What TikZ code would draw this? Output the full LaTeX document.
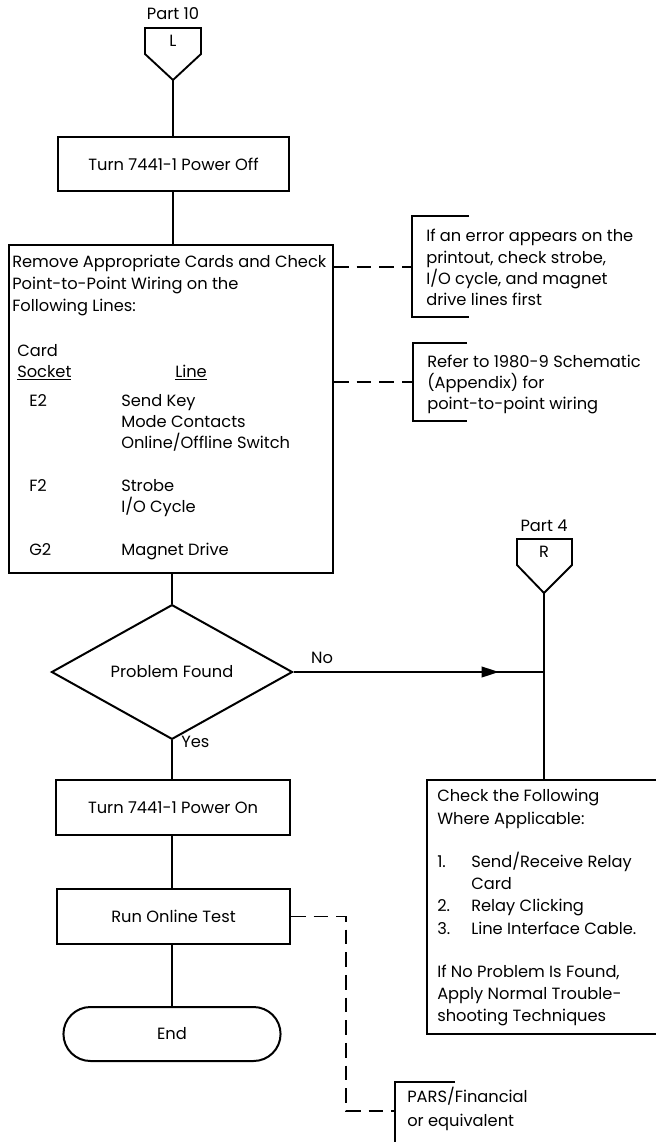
\documentclass[tikz,border=0pt]{standalone}
\usepackage{fontspec}
\setmainfont{Poppins}
\usetikzlibrary{positioning}
\usetikzlibrary{calc}
\usetikzlibrary{arrows.meta,shapes.misc}
\usetikzlibrary{shapes.geometric}
\usetikzlibrary{decorations.markings}

\begin{document}
\begin{tikzpicture}[
            x=0.75pt,
            y=-0.75pt,
            box/.style={
                draw,
                line width=1.5pt,
                inner sep=0pt,
                font=\fontsize{12.2}{16}\selectfont
            },
            dec/.style={
                diamond,
                draw,
                line width=1.5pt,
                inner sep=0pt,
                minimum width=180.75pt,
                minimum height=78.75pt,
                font=\fontsize{12.2}{16}\selectfont
            },
            term/.style={
                rounded rectangle,
                draw,
                line width=1.5pt,
                minimum width=169.5pt,
                minimum height=40.5pt,
                font=\fontsize{12.2}{16}\selectfont
            },
            ed/.style={
                draw=black,
                line width=1.4pt
            },
            dsh/.style={
                draw=black,
                line width=1.2pt,
                dash pattern=on 11pt off 6pt
            },
            lab/.style={
                font=\fontsize{12.2}{16}\selectfont,
                inner sep=0pt,
                text height=9pt,
                text depth=2.6pt
            }
        ]

            \clip (0,0) rectangle (656,1142);

            % Off-page entry
            \node[lab] (p10) at (173,15) {Part 10};
            \node[lab] (L) at (173,42) {L};
            \draw[ed] (145,28) -- (201,28) -- (201,54) -- (173,80) -- (145,54) -- cycle;
            \coordinate (Ltip) at (173,80);

            % Main column
            \node[box, minimum width=173.25pt, minimum height=40.5pt] (off) at (173.5,164) {Turn 7441-1 Power Off};
            \node[box, minimum width=243pt, minimum height=246pt] (rmv) at (171,409) {};
            \node[dec] (found) at (172,672) {Problem Found};
            \node[box, minimum width=175.5pt, minimum height=41.25pt] (on) at (173,807.5) {Turn 7441-1 Power On};
            \node[box, minimum width=174.75pt, minimum height=41.25pt] (test) at (173.5,916.5) {Run Online Test};
            \node[term] (end) at (172,1034) {End};

            % Text of the wiring box
            \foreach \y/\t [count=\k] in {263/Remove Appropriate Cards and Check,
                                          285/Point-to-Point Wiring on the,
                                          307/Following Lines:}
                \node[lab, anchor=west] (hd\k) at (12,\y) {\t};
            \node[lab, anchor=west] (card) at (17,352) {Card};
            \node[lab, anchor=west] (sock) at (17,373) {\underline{Socket}};
            \node[lab, anchor=west] (line) at (175,373) {\underline{Line}};
            \foreach \y/\t [count=\k] in {402/E2, 487/F2, 551/G2}
                \node[lab, anchor=west] (cs\k) at (29,\y) {\t};
            \foreach \y/\t [count=\k] in {402/Send Key, 423/Mode Contacts,
                                          444/{Online/Offline Switch}, 487/Strobe,
                                          508/{I/O Cycle}, 551/Magnet Drive}
                \node[lab, anchor=west] (ln\k) at (121,\y) {\t};

            % Off-page exit
            \node[lab] (p4) at (544,527) {Part 4};
            \node[lab] (R) at (544,553) {R};
            \draw[ed] (517,539) -- (572,539) -- (572,565) -- (544,593) -- (517,565) -- cycle;
            \coordinate (Rtip) at (544,593);
            \coordinate (join) at (544,672);

            % Check box on the right
            \node[box, minimum width=204.75pt, minimum height=190.5pt] (chk) at (563.5,907) {};
            \foreach \y/\t [count=\k] in {797/Check the Following, 820/Where Applicable:,
                                          973/{If No Problem Is Found,},
                                          995/Apply Normal Trouble-,
                                          1017/shooting Techniques}
                \node[lab, anchor=west] (ck\k) at (437,\y) {\t};
            \foreach \y/\n/\t [count=\k] in {863/1./{Send/Receive Relay}, 885//Card,
                                             907/2./Relay Clicking,
                                             930/3./Line Interface Cable.}
                {
                \node[lab, anchor=west] (num\k) at (437,\y) {\n};
                \node[lab, anchor=west] (itm\k) at (471,\y) {\t};
                }

            % Flow lines
            \draw[ed] (Ltip) -- (Ltip |- off.north);
            \draw[ed] (off.south -| Ltip) -- (Ltip |- rmv.north);
            \draw[ed] (rmv.south -| found.north) -- (found.north);
            \draw[ed] (found.south) -- (found.south |- on.north);
            \draw[ed] (on.south -| found.south) -- (found.south |- test.north);
            \draw[ed] (test.south -| found.south) -- (found.south |- end.north);
            \draw[ed, postaction={decorate},
                  decoration={markings, mark=at position 0.82 with {\arrow{Triangle[length=13pt,width=8pt]}}}]
                (found.east) -- (join);
            \draw[ed] (Rtip) -- (Rtip |- chk.north);
            \node[lab] (no) at (322,659) {No};
            \node[lab, anchor=west] (yes) at (181,743) {Yes};

            % Notes
            \coordinate (n1) at (412,267);
            \coordinate (n2) at (413,382);
            \draw[dsh] (rmv.east |- n1) -- (n1);
            \draw[dsh] (rmv.east |- n2) -- (n2);
            \draw[ed] (469,216) -- (412,216) -- (412,317) -- (469,317);
            \draw[ed] (467,343) -- (413,343) -- (413,421) -- (467,421);
            \foreach \y/\t [count=\k] in {237/If an error appears on the,
                                          259/{printout, check strobe,},
                                          280/{I/O cycle, and magnet},
                                          301/drive lines first}
                \node[lab, anchor=west] (na\k) at (426,\y) {\t};
            \foreach \y/\t [count=\k] in {363/Refer to 1980-9 Schematic,
                                          384/(Appendix) for,
                                          405/point-to-point wiring}
                \node[lab, anchor=west] (nb\k) at (427,\y) {\t};

            \coordinate (n3) at (395,1111);
            \draw[dsh] (test.east) -| (346,1111) -- (n3);
            \draw[ed] (455,1082) -- (395,1082) -- (395,1160);
            \node[lab, anchor=west] (nc1) at (407,1098) {PARS/Financial};
            \node[lab, anchor=west] (nc2) at (407,1122) {or equivalent};

        \end{tikzpicture}
\end{document}
